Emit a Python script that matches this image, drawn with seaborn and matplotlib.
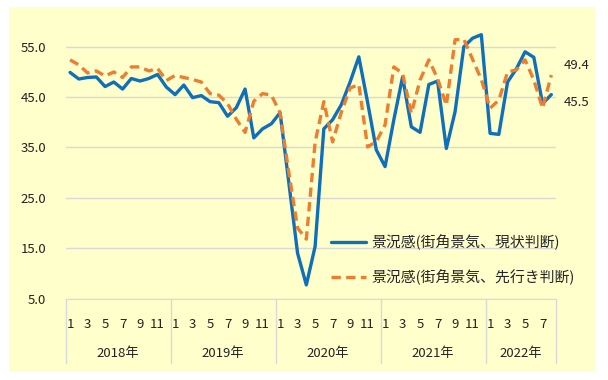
import seaborn as sns
import matplotlib.pyplot as plt
import matplotlib.transforms as mtransforms
from matplotlib.patches import Rectangle
import pandas as pd
import numpy as np

years = ['2018年', '2019年', '2020年', '2021年', '2022年']
months_per_year = [12, 12, 12, 12, 8]

current = [49.9, 48.6, 48.9, 49.0, 47.1, 48.0, 46.6, 48.7, 48.2, 48.7, 49.5, 47.0,
           45.5, 47.4, 44.9, 45.3, 44.1, 43.9, 41.2, 42.9, 46.6, 36.9, 38.7, 39.7,
           41.9, 28.0, 14.0, 7.7, 15.3, 38.7, 40.5, 43.5, 48.0, 53.0, 44.0, 34.5,
           31.2, 40.5, 49.0, 39.1, 38.0, 47.5, 48.2, 34.8, 42.1, 55.0, 56.7, 57.4,
           37.8, 37.6, 48.0, 50.6, 54.0, 52.9, 43.7, 45.5]
outlook = [52.4, 51.4, 49.8, 50.2, 49.2, 50.0, 48.9, 51.0, 51.0, 50.2, 50.7, 48.3,
           49.3, 48.9, 48.5, 48.0, 45.7, 45.4, 43.7, 40.6, 38.0, 44.2, 45.7, 45.4,
           41.9, 30.0, 19.0, 16.8, 36.0, 44.1, 36.1, 42.0, 46.8, 47.5, 35.1, 36.2,
           39.5, 51.0, 49.7, 41.8, 48.4, 52.4, 48.7, 43.4, 56.4, 56.5, 52.5, 48.5,
           42.8, 44.4, 50.0, 50.4, 52.4, 48.4, 42.8, 49.4]

label_current = '景況感(街角景気、現状判断)'
label_outlook = '景況感(街角景気、先行き判断)'

month_no = [m for n in months_per_year for m in range(1, n + 1)]
idx = list(range(len(month_no)))

df = pd.DataFrame({
    'idx': idx * 2,
    'value': current + outlook,
    'series': [label_current] * len(idx) + [label_outlook] * len(idx),
})

sns.set_style('white')
plt.rcParams['font.family'] = ['Noto Sans CJK JP', 'DejaVu Sans']

W, H = 608, 380
fig = plt.figure(figsize=(W / 100, H / 100), dpi=100)
fig.patch.set_facecolor('white')
bg = '#FFFFCC'
fig.patches.append(Rectangle((9 / W, 1 - 372 / H), 586 / W, 365 / H,
                             transform=fig.transFigure, facecolor=bg,
                             edgecolor='none', zorder=-10))

left, right, top, bottom = 65.7, 555.7, 21.6, 298.5
ax = fig.add_axes([left / W, 1 - bottom / H, (right - left) / W, (bottom - top) / H])
ax.set_facecolor(bg)

blue = '#0F6FB8'
orange = '#ED7D31'
sns.lineplot(data=df, x='idx', y='value', hue='series', style='series',
             palette={label_current: blue, label_outlook: orange},
             dashes={label_current: '', label_outlook: (2.8, 1.6)},
             linewidth=2.4, ax=ax)

ax.set_xlim(-0.5, len(idx) - 0.5)
ax.set_ylim(5, 60)
ax.set_yticks(np.arange(5, 56, 10))
ax.set_yticklabels([f'{v:.1f}' for v in np.arange(5, 56, 10)], fontsize=9.5, color='#222222')
ax.grid(axis='y', color='#D9D9D9', linewidth=1)
ax.set_axisbelow(True)
for s in ['top', 'right', 'left']:
    ax.spines[s].set_visible(False)
ax.spines['bottom'].set_color('#D9D9D9')
ax.tick_params(axis='y', length=0, pad=14)

tick_pos = [i for i, m in zip(idx, month_no) if m % 2 == 1]
ax.set_xticks(tick_pos)
ax.set_xticklabels([str(month_no[i]) for i in tick_pos], fontsize=9.5, color='#222222')
ax.tick_params(axis='x', length=0, pad=14)
ax.set_xlabel('')
ax.set_ylabel('')

# year separators and labels
trans = mtransforms.blended_transform_factory(ax.transData, ax.transAxes)
ax_h = bottom - top
start = 0
bounds = [-0.5]
for y, n in zip(years, months_per_year):
    ax.text(start + n / 2 - 0.5, -(353 - bottom) / ax_h, y, transform=trans,
            ha='center', va='center', fontsize=9.5, color='#222222')
    start += n
    bounds.append(start - 0.5)
for b in bounds:
    ax.plot([b, b], [0, -(363 - bottom) / ax_h], transform=trans, color='#D9D9D9',
            linewidth=1, clip_on=False)

# end labels
ax.annotate(f'{outlook[-1]:.1f}', (idx[-1], outlook[-1]), xytext=(9, 7),
            textcoords='offset points', ha='left', va='center', fontsize=9.5, color='#222222')
ax.annotate(f'{current[-1]:.1f}', (idx[-1], current[-1]), xytext=(9, -6),
            textcoords='offset points', ha='left', va='center', fontsize=9.5, color='#222222')

handles, labels = ax.get_legend_handles_labels()
ax.legend(handles, labels, loc='upper left', bbox_to_anchor=(331 / W, 1 - 234 / H),
          bbox_transform=fig.transFigure, frameon=False, fontsize=10.7,
          handlelength=2.35, handletextpad=0.33, labelspacing=1.3, borderpad=0,
          borderaxespad=0)

fig.savefig('out.png', dpi=100, facecolor='white')
